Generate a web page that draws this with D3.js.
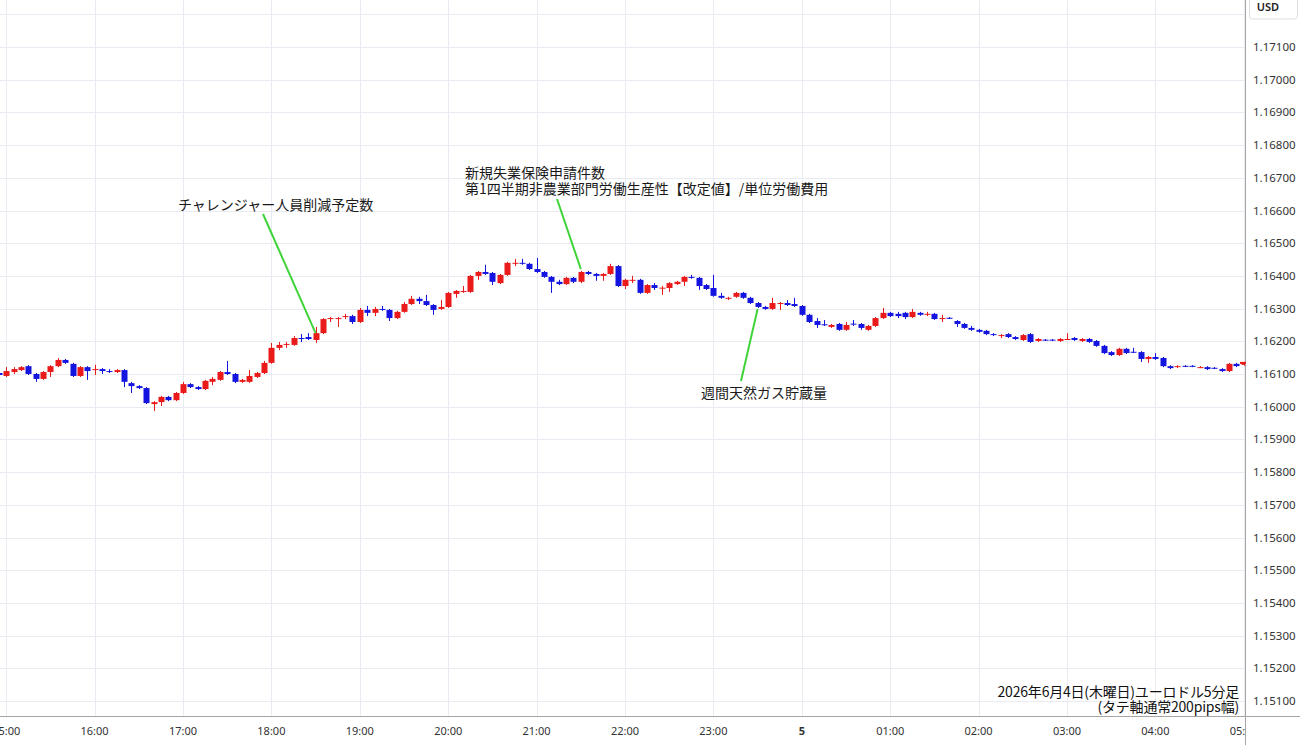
<!DOCTYPE html>
<html><head><meta charset="utf-8">
<script src="https://cdn.jsdelivr.net/npm/d3@7"></script>
<style>body{margin:0;background:#fff;overflow:hidden} svg{display:block}</style>
</head><body>
<svg id="c" width="1300" height="745"></svg>
<script>
// ---- data (EUR/USD 5-minute bars, 2026-06-04 14:55 .. 06-05 05:00) ----
const startTime = new Date(2026, 5, 4, 14, 55);
const barMinutes = 5;

const opens = [
1.16103,1.16094,1.16106,1.16112,1.16124,1.16100,1.16085,1.16106,1.16124,1.16143,
1.16131,1.16094,1.16121,1.16112,1.16115,1.16109,1.16106,1.16112,1.16072,1.16063,
1.16057,1.16008,1.16014,1.16030,1.16020,1.16042,1.16069,1.16060,1.16054,1.16076,
1.16082,1.16106,1.16100,1.16076,1.16076,1.16091,1.16103,1.16134,1.16180,1.16189,
1.16189,1.16210,1.16213,1.16204,1.16225,1.16268,1.16268,1.16275,1.16277,1.16259,
1.16296,1.16287,1.16299,1.16296,1.16271,1.16290,1.16314,1.16330,1.16323,1.16311,
1.16299,1.16305,1.16345,1.16351,1.16351,1.16400,1.16412,1.16409,1.16378,1.16403,
1.16437,1.16440,1.16437,1.16421,1.16412,1.16397,1.16382,1.16375,1.16394,1.16382,
1.16412,1.16406,1.16400,1.16406,1.16430,1.16369,1.16385,1.16388,1.16348,1.16372,
1.16362,1.16363,1.16375,1.16382,1.16397,1.16394,1.16372,1.16363,1.16339,1.16331,
1.16336,1.16348,1.16333,1.16317,1.16305,1.16299,1.16315,1.16317,1.16314,1.16308,
1.16281,1.16262,1.16252,1.16244,1.16253,1.16235,1.16254,1.16253,1.16235,1.16247,
1.16271,1.16287,1.16284,1.16287,1.16274,1.16287,1.16283,1.16284,1.16270,1.16272,
1.16262,1.16253,1.16241,1.16235,1.16232,1.16222,1.16216,1.16222,1.16213,1.16204,
1.16222,1.16201,1.16205,1.16205,1.16201,1.16206,1.16210,1.16201,1.16207,1.16201,
1.16186,1.16167,1.16158,1.16177,1.16168,1.16167,1.16146,1.16152,1.16149,1.16124,
1.16121,1.16125,1.16125,1.16120,1.16121,1.16119,1.16115,1.16109,1.16131,1.16128];

const highs = [
1.16106,1.16121,1.16121,1.16124,1.16127,1.16103,1.16109,1.16127,1.16149,1.16146,
1.16134,1.16124,1.16124,1.16128,1.16118,1.16115,1.16115,1.16115,1.16076,1.16066,
1.16060,1.16017,1.16033,1.16033,1.16045,1.16076,1.16072,1.16063,1.16082,1.16091,
1.16109,1.16140,1.16103,1.16085,1.16112,1.16106,1.16140,1.16195,1.16198,1.16198,
1.16216,1.16222,1.16225,1.16244,1.16271,1.16274,1.16274,1.16284,1.16281,1.16302,
1.16308,1.16305,1.16308,1.16299,1.16293,1.16320,1.16339,1.16336,1.16342,1.16314,
1.16326,1.16351,1.16357,1.16369,1.16403,1.16415,1.16434,1.16412,1.16406,1.16443,
1.16452,1.16452,1.16440,1.16455,1.16415,1.16400,1.16388,1.16397,1.16397,1.16415,
1.16415,1.16409,1.16409,1.16437,1.16433,1.16391,1.16400,1.16391,1.16375,1.16378,
1.16369,1.16381,1.16385,1.16400,1.16403,1.16397,1.16375,1.16403,1.16348,1.16336,
1.16351,1.16351,1.16336,1.16320,1.16308,1.16333,1.16320,1.16326,1.16333,1.16311,
1.16284,1.16271,1.16265,1.16253,1.16256,1.16259,1.16265,1.16256,1.16250,1.16274,
1.16302,1.16290,1.16290,1.16290,1.16299,1.16290,1.16290,1.16287,1.16281,1.16274,
1.16265,1.16256,1.16247,1.16238,1.16235,1.16225,1.16222,1.16225,1.16216,1.16222,
1.16225,1.16210,1.16207,1.16207,1.16210,1.16225,1.16213,1.16210,1.16210,1.16204,
1.16189,1.16170,1.16180,1.16180,1.16180,1.16170,1.16155,1.16164,1.16152,1.16127,
1.16127,1.16127,1.16127,1.16124,1.16124,1.16121,1.16118,1.16134,1.16134,1.16137];

const lows = [
1.16094,1.16091,1.16100,1.16109,1.16097,1.16076,1.16082,1.16091,1.16121,1.16131,
1.16091,1.16091,1.16082,1.16097,1.16100,1.16103,1.16103,1.16060,1.16042,1.16054,
1.16008,1.15987,1.16002,1.16017,1.16017,1.16039,1.16057,1.16051,1.16051,1.16066,
1.16079,1.16097,1.16072,1.16073,1.16073,1.16088,1.16100,1.16131,1.16173,1.16180,
1.16186,1.16198,1.16204,1.16195,1.16222,1.16259,1.16244,1.16268,1.16253,1.16256,
1.16277,1.16277,1.16293,1.16262,1.16268,1.16287,1.16311,1.16314,1.16308,1.16281,
1.16296,1.16302,1.16333,1.16348,1.16348,1.16388,1.16403,1.16372,1.16375,1.16400,
1.16430,1.16434,1.16418,1.16409,1.16394,1.16348,1.16372,1.16372,1.16378,1.16378,
1.16403,1.16385,1.16385,1.16403,1.16366,1.16360,1.16378,1.16345,1.16345,1.16357,
1.16342,1.16351,1.16372,1.16369,1.16391,1.16357,1.16357,1.16336,1.16330,1.16326,
1.16333,1.16330,1.16314,1.16302,1.16296,1.16296,1.16296,1.16308,1.16305,1.16278,
1.16256,1.16241,1.16247,1.16241,1.16232,1.16232,1.16247,1.16235,1.16232,1.16244,
1.16268,1.16274,1.16271,1.16268,1.16271,1.16278,1.16277,1.16265,1.16259,1.16268,
1.16244,1.16238,1.16232,1.16226,1.16219,1.16216,1.16210,1.16210,1.16204,1.16201,
1.16195,1.16198,1.16201,1.16201,1.16198,1.16204,1.16201,1.16198,1.16195,1.16183,
1.16161,1.16155,1.16155,1.16161,1.16164,1.16137,1.16134,1.16143,1.16121,1.16115,
1.16118,1.16121,1.16121,1.16118,1.16112,1.16115,1.16106,1.16106,1.16121,1.16125];

const closes = [
1.16097,1.16109,1.16115,1.16121,1.16100,1.16085,1.16106,1.16124,1.16143,1.16134,
1.16094,1.16121,1.16109,1.16115,1.16109,1.16106,1.16112,1.16076,1.16063,1.16057,
1.16011,1.16014,1.16030,1.16020,1.16042,1.16069,1.16060,1.16054,1.16079,1.16085,
1.16106,1.16100,1.16076,1.16082,1.16094,1.16103,1.16134,1.16180,1.16189,1.16192,
1.16210,1.16207,1.16207,1.16225,1.16268,1.16271,1.16271,1.16277,1.16259,1.16296,
1.16287,1.16299,1.16296,1.16271,1.16290,1.16314,1.16330,1.16323,1.16311,1.16296,
1.16305,1.16348,1.16354,1.16354,1.16400,1.16412,1.16406,1.16382,1.16403,1.16440,
1.16440,1.16437,1.16421,1.16412,1.16397,1.16382,1.16375,1.16394,1.16382,1.16412,
1.16406,1.16400,1.16406,1.16430,1.16369,1.16388,1.16388,1.16348,1.16372,1.16363,
1.16364,1.16378,1.16382,1.16397,1.16394,1.16369,1.16360,1.16339,1.16333,1.16333,
1.16348,1.16333,1.16317,1.16305,1.16299,1.16317,1.16317,1.16311,1.16308,1.16281,
1.16259,1.16250,1.16250,1.16250,1.16235,1.16250,1.16252,1.16241,1.16247,1.16271,
1.16287,1.16277,1.16277,1.16274,1.16290,1.16281,1.16284,1.16268,1.16271,1.16270,
1.16253,1.16241,1.16235,1.16229,1.16222,1.16219,1.16219,1.16213,1.16207,1.16219,
1.16198,1.16207,1.16204,1.16204,1.16207,1.16207,1.16204,1.16207,1.16198,1.16186,
1.16164,1.16158,1.16177,1.16164,1.16167,1.16146,1.16152,1.16146,1.16124,1.16118,
1.16124,1.16124,1.16124,1.16121,1.16115,1.16118,1.16109,1.16131,1.16124,1.16134];

const priceTicks = [1.151,1.152,1.153,1.154,1.155,1.156,1.157,1.158,1.159,1.160,
  1.161,1.162,1.163,1.164,1.165,1.166,1.167,1.168,1.169,1.170,1.171];
const gridPrices = priceTicks.concat([1.172]);
const currencyLabel = "USD";

const annotations = [
  { bar: 43, lines: ["チャレンジャー人員削減予定数"] },
  { bar: 79, lines: ["新規失業保険申請件数", "第1四半期非農業部門労働生産性【改定値】/単位労働費用"] },
  { bar: 103, lines: ["週間天然ガス貯蔵量"] }
];
const captionLines = ["2026年6月4日(木曜日)ユーロドル5分足", "(タテ軸通常200pips幅)"];

// ---- layout ----
const W = 1300, H = 745;
const plotRight = 1245, plotBottom = 716;
const UP = "#ea1a1a", DOWN = "#1414e0", GRID = "#e8ecf2", AXIS = "#a6a6a6";
const svg = d3.select("#c");

const bars = opens.map((o, k) => ({
  t: d3.timeMinute.offset(startTime, k * barMinutes),
  o, h: highs[k], l: lows[k], c: closes[k]
}));

const x = d3.scaleTime()
  .domain([new Date(2026, 5, 4, 15, 0), new Date(2026, 5, 5, 5, 0)])
  .range([6.2, 1243.8]);
const y = d3.scaleLinear().domain([1.151, 1.171]).range([701, 47]);

svg.append("rect").attr("width", W).attr("height", H).attr("fill", "#fff");

svg.append("defs").append("clipPath").attr("id", "plot")
  .append("rect").attr("x", 0).attr("y", 0).attr("width", plotRight).attr("height", plotBottom);

const plot = svg.append("g").attr("clip-path", "url(#plot)");

// grid
const hours = d3.timeHour.range(new Date(2026, 5, 4, 15), new Date(2026, 5, 5, 6));
plot.append("g").selectAll("line").data(gridPrices).join("line")
  .attr("x1", 0).attr("x2", plotRight)
  .attr("y1", d => Math.round(y(d)) + 0.5).attr("y2", d => Math.round(y(d)) + 0.5)
  .attr("stroke", GRID).attr("stroke-width", 1);
plot.append("g").selectAll("line").data(hours).join("line")
  .attr("y1", 0).attr("y2", plotBottom)
  .attr("x1", d => Math.round(x(d)) + 0.5).attr("x2", d => Math.round(x(d)) + 0.5)
  .attr("stroke", GRID).attr("stroke-width", 1);

// candles
const bw = 6;
const cg = plot.append("g").selectAll("g").data(bars).join("g");
cg.append("line")
  .attr("x1", d => Math.round(x(d.t)) + 0.5).attr("x2", d => Math.round(x(d.t)) + 0.5)
  .attr("y1", d => y(d.h)).attr("y2", d => y(d.l))
  .attr("stroke", d => d.c >= d.o ? UP : DOWN).attr("stroke-width", 1);
cg.append("rect")
  .attr("x", d => Math.round(x(d.t)) + 0.5 - bw / 2)
  .attr("width", bw)
  .attr("y", d => y(Math.max(d.o, d.c)))
  .attr("height", d => Math.max(1, Math.abs(y(d.o) - y(d.c))))
  .attr("fill", d => d.c >= d.o ? UP : DOWN);

// annotations
const annOffsets = [
  { tx: 178, ty: 210, lx1: 263, ly1: 214, ey: 0 },
  { tx: 465, ty: 178, lx1: 557, ly1: 199, ey: -2 },
  { tx: 701, ty: 398, lx1: 741, ly1: 381, ey: 2 }
];
const ag = svg.append("g");
annotations.forEach((a, k) => {
  const b = bars[a.bar], off = annOffsets[k];
  const ex = x(b.t), eyv = k === 1 ? y(b.h) : y(b.c);
  ag.append("line")
    .attr("x1", off.lx1).attr("y1", off.ly1)
    .attr("x2", ex).attr("y2", eyv + off.ey)
    .attr("stroke", "#3fd43a").attr("stroke-width", 2);
  const t = ag.append("text").attr("x", off.tx).attr("y", off.ty)
    .attr("font-family", "'Noto Sans CJK JP', sans-serif").attr("font-size", 14)
    .attr("fill", "#1a1a1a");
  a.lines.forEach((ln, j) => {
    t.append("tspan").attr("x", off.tx).attr("dy", j === 0 ? 0 : 16).text(ln);
  });
});

// caption (one text block, two lines)
const cap = svg.append("text").attr("x", 1239).attr("y", 697)
  .attr("text-anchor", "end")
  .attr("font-family", "'Noto Sans CJK JP', sans-serif").attr("font-size", 14)
  .attr("letter-spacing", -0.2)
  .attr("fill", "#111");
captionLines.forEach((ln, j) => {
  cap.append("tspan").attr("x", 1239).attr("dy", j === 0 ? 0 : 14.5).text(ln);
});

// axes lines
svg.append("line").attr("x1", plotRight + 0.5).attr("x2", plotRight + 0.5)
  .attr("y1", 0).attr("y2", H).attr("stroke", AXIS);
svg.append("line").attr("x1", 0).attr("x2", W)
  .attr("y1", plotBottom + 0.5).attr("y2", plotBottom + 0.5).attr("stroke", AXIS);

// price labels
svg.append("g").selectAll("text").data(priceTicks).join("text")
  .attr("x", 1253).attr("y", d => y(d)).attr("dy", "0.35em")
  .attr("font-family", "'Noto Sans', sans-serif").attr("font-size", 11.5)
  .attr("fill", "#333").text(d => d3.format(".5f")(d));

// last price marker
const last = bars[bars.length - 1];
svg.append("line").attr("x1", 1240).attr("x2", 1246)
  .attr("y1", y(last.c)).attr("y2", y(last.c)).attr("stroke", UP).attr("stroke-width", 2);

// currency box
svg.append("rect").attr("x", 1249.5).attr("y", -4).attr("width", 48).attr("height", 23)
  .attr("rx", 3).attr("fill", "#fff").attr("stroke", "#e0e0e0");
svg.append("text").attr("x", 1268).attr("y", 7).attr("dy", "0.35em").attr("text-anchor", "middle")
  .attr("font-family", "'Noto Sans', sans-serif").attr("font-size", 11).attr("font-weight", 600)
  .attr("fill", "#222").text(currencyLabel);

// time labels
svg.append("defs").append("clipPath").attr("id", "xlab")
  .append("rect").attr("x", 0).attr("y", plotBottom).attr("width", plotRight).attr("height", 40);
svg.append("g").attr("clip-path", "url(#xlab)").selectAll("text").data(hours).join("text")
  .attr("x", d => x(d)).attr("y", 731).attr("dy", "0.35em").attr("text-anchor", "middle")
  .attr("font-family", "'Noto Sans', sans-serif").attr("font-size", 11)
  .attr("font-weight", d => d.getHours() === 0 ? 700 : 400)
  .attr("fill", "#333")
  .text(d => d.getHours() === 0 ? String(d.getDate()) : d3.timeFormat("%H:%M")(d));
</script>
</body></html>
